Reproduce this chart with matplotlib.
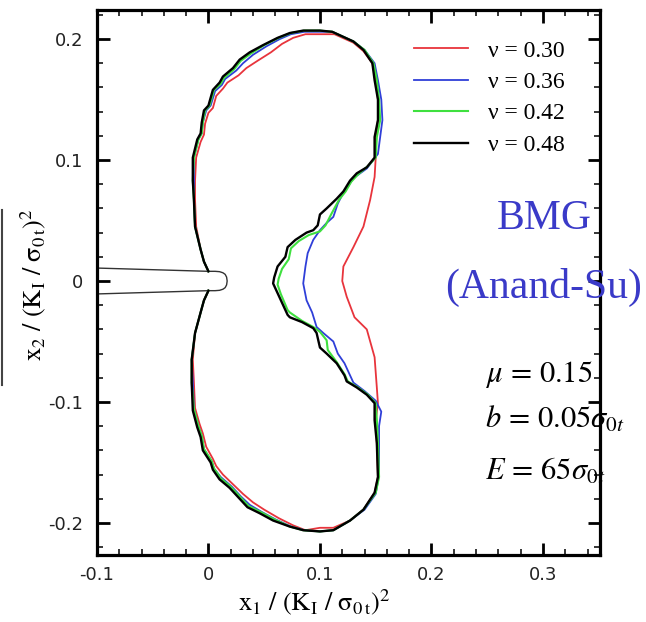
import matplotlib
matplotlib.use('Agg')
import matplotlib.pyplot as plt
from matplotlib.ticker import MultipleLocator, FormatStrFormatter
from matplotlib.lines import Line2D

plt.rcParams['mathtext.fontset'] = 'stix'
plt.rcParams['axes.unicode_minus'] = False

# plastic zone boundaries, x1 / (K_I/sigma_0t)^2 , x2 / (K_I/sigma_0t)^2
nu30 = [(0.000, 0.008), (-0.004, 0.016), (-0.007, 0.026), (-0.011, 0.045), (-0.012, 0.067), (-0.012, 0.083),
        (-0.011, 0.102), (-0.007, 0.115), (-0.004, 0.121), (-0.003, 0.130), (0.000, 0.139), (0.004, 0.143),
        (0.007, 0.153), (0.013, 0.159), (0.017, 0.164), (0.027, 0.170), (0.034, 0.176), (0.044, 0.182),
        (0.056, 0.189), (0.066, 0.196), (0.076, 0.201), (0.087, 0.204), (0.100, 0.204), (0.113, 0.204),
        (0.130, 0.197), (0.139, 0.190), (0.147, 0.180), (0.150, 0.166), (0.152, 0.150), (0.152, 0.133),
        (0.150, 0.119), (0.150, 0.102), (0.149, 0.086), (0.145, 0.067), (0.139, 0.045), (0.130, 0.028),
        (0.121, 0.012), (0.120, 0.000), (0.124, -0.013), (0.131, -0.030), (0.142, -0.040), (0.149, -0.063),
        (0.151, -0.088), (0.152, -0.101), (0.150, -0.115), (0.151, -0.134), (0.152, -0.162), (0.149, -0.175),
        (0.139, -0.189), (0.127, -0.198), (0.112, -0.204), (0.100, -0.204), (0.087, -0.206), (0.076, -0.202),
        (0.063, -0.196), (0.050, -0.189), (0.040, -0.183), (0.031, -0.176), (0.022, -0.168), (0.013, -0.160),
        (0.007, -0.153), (0.004, -0.147), (-0.002, -0.137), (-0.005, -0.126), (-0.008, -0.118), (-0.012, -0.105),
        (-0.013, -0.084), (-0.014, -0.065), (-0.012, -0.043), (-0.007, -0.026), (-0.004, -0.016), (0.000, -0.008)]

nu36 = [(0.000, 0.008), (-0.004, 0.016), (-0.007, 0.026), (-0.012, 0.045), (-0.013, 0.067), (-0.013, 0.083),
        (-0.013, 0.102), (-0.009, 0.117), (-0.006, 0.122), (-0.005, 0.131), (-0.002, 0.141), (0.002, 0.145),
        (0.006, 0.157), (0.012, 0.162), (0.015, 0.167), (0.025, 0.174), (0.031, 0.180), (0.040, 0.187),
        (0.052, 0.194), (0.064, 0.200), (0.074, 0.204), (0.086, 0.206), (0.100, 0.206), (0.111, 0.206),
        (0.130, 0.198), (0.140, 0.191), (0.149, 0.180), (0.152, 0.166), (0.155, 0.150), (0.156, 0.133),
        (0.154, 0.119), (0.152, 0.105), (0.142, 0.093), (0.130, 0.085), (0.125, 0.078), (0.121, 0.073),
        (0.116, 0.064), (0.112, 0.053), (0.106, 0.048), (0.100, 0.042), (0.094, 0.034), (0.089, 0.023),
        (0.087, 0.012), (0.085, -0.002), (0.088, -0.016), (0.093, -0.026), (0.097, -0.038), (0.103, -0.043),
        (0.112, -0.050), (0.116, -0.060), (0.122, -0.068), (0.127, -0.078), (0.130, -0.084), (0.140, -0.091),
        (0.150, -0.099), (0.155, -0.108), (0.153, -0.120), (0.153, -0.134), (0.153, -0.160), (0.150, -0.176),
        (0.140, -0.189), (0.127, -0.198), (0.112, -0.206), (0.100, -0.207), (0.086, -0.206), (0.074, -0.203),
        (0.060, -0.197), (0.048, -0.191), (0.037, -0.185), (0.029, -0.178), (0.021, -0.170), (0.011, -0.162),
        (0.005, -0.155), (0.003, -0.149), (-0.004, -0.139), (-0.006, -0.128), (-0.009, -0.120), (-0.013, -0.106),
        (-0.014, -0.084), (-0.015, -0.065), (-0.012, -0.043), (-0.007, -0.026), (-0.004, -0.016), (0.000, -0.008)]

nu42 = [(0.000, 0.008), (-0.004, 0.016), (-0.007, 0.026), (-0.012, 0.045), (-0.013, 0.067), (-0.014, 0.083),
        (-0.013, 0.102), (-0.009, 0.117), (-0.006, 0.122), (-0.005, 0.131), (-0.003, 0.141), (0.001, 0.145),
        (0.005, 0.158), (0.011, 0.163), (0.014, 0.168), (0.023, 0.175), (0.029, 0.182), (0.038, 0.188),
        (0.050, 0.195), (0.063, 0.201), (0.074, 0.205), (0.086, 0.207), (0.100, 0.207), (0.111, 0.206),
        (0.130, 0.198), (0.140, 0.191), (0.148, 0.180), (0.151, 0.166), (0.153, 0.150), (0.154, 0.133),
        (0.151, 0.119), (0.150, 0.102), (0.143, 0.095), (0.134, 0.088), (0.128, 0.082), (0.123, 0.074),
        (0.117, 0.067), (0.110, 0.055), (0.105, 0.046), (0.100, 0.041), (0.090, 0.038), (0.081, 0.033),
        (0.074, 0.027), (0.072, 0.018), (0.066, 0.010), (0.063, 0.002), (0.062, -0.003), (0.065, -0.011),
        (0.071, -0.024), (0.073, -0.026), (0.084, -0.033), (0.094, -0.038), (0.100, -0.042), (0.106, -0.049),
        (0.107, -0.057), (0.115, -0.067), (0.122, -0.077), (0.125, -0.083), (0.134, -0.088), (0.143, -0.094),
        (0.150, -0.101), (0.151, -0.115), (0.152, -0.134), (0.153, -0.162), (0.150, -0.175), (0.139, -0.189),
        (0.127, -0.198), (0.112, -0.206), (0.100, -0.207), (0.085, -0.206), (0.073, -0.203), (0.059, -0.197),
        (0.047, -0.191), (0.036, -0.186), (0.028, -0.178), (0.020, -0.170), (0.011, -0.163), (0.005, -0.155),
        (0.003, -0.149), (-0.004, -0.139), (-0.006, -0.128), (-0.009, -0.120), (-0.013, -0.106), (-0.015, -0.084),
        (-0.015, -0.065), (-0.012, -0.043), (-0.007, -0.026), (-0.004, -0.016), (0.000, -0.008)]

nu48 = [(0.000, 0.008), (-0.004, 0.016), (-0.007, 0.026), (-0.012, 0.045), (-0.013, 0.067), (-0.014, 0.083),
        (-0.014, 0.102), (-0.010, 0.117), (-0.007, 0.122), (-0.006, 0.131), (-0.004, 0.141), (0.000, 0.145),
        (0.004, 0.158), (0.010, 0.164), (0.013, 0.169), (0.022, 0.176), (0.028, 0.183), (0.037, 0.189),
        (0.049, 0.195), (0.062, 0.201), (0.073, 0.205), (0.085, 0.207), (0.100, 0.207), (0.111, 0.206),
        (0.130, 0.198), (0.139, 0.191), (0.147, 0.180), (0.149, 0.166), (0.152, 0.150), (0.152, 0.133),
        (0.149, 0.119), (0.149, 0.102), (0.142, 0.094), (0.133, 0.089), (0.127, 0.083), (0.121, 0.074),
        (0.115, 0.068), (0.106, 0.060), (0.100, 0.055), (0.098, 0.046), (0.094, 0.042), (0.088, 0.040),
        (0.078, 0.034), (0.071, 0.028), (0.069, 0.020), (0.062, 0.012), (0.059, 0.003), (0.058, -0.002),
        (0.062, -0.010), (0.066, -0.018), (0.071, -0.028), (0.073, -0.030), (0.084, -0.034), (0.094, -0.039),
        (0.097, -0.043), (0.100, -0.055), (0.106, -0.060), (0.115, -0.068), (0.122, -0.078), (0.124, -0.083),
        (0.133, -0.088), (0.142, -0.094), (0.149, -0.101), (0.149, -0.115), (0.151, -0.134), (0.152, -0.162),
        (0.149, -0.175), (0.139, -0.189), (0.127, -0.198), (0.112, -0.206), (0.100, -0.207), (0.085, -0.206),
        (0.073, -0.203), (0.058, -0.198), (0.046, -0.192), (0.035, -0.187), (0.027, -0.179), (0.019, -0.171),
        (0.010, -0.164), (0.004, -0.156), (0.002, -0.150), (-0.005, -0.140), (-0.007, -0.129), (-0.010, -0.121),
        (-0.014, -0.107), (-0.015, -0.084), (-0.015, -0.065), (-0.012, -0.043), (-0.007, -0.026), (-0.004, -0.016),
        (0.000, -0.008)]

# crack faces and blunted tip
crack_x = [-0.1, 0.0, 0.006, 0.010, 0.013, 0.015, 0.0163, 0.0168, 0.0163, 0.015, 0.013, 0.010, 0.006, 0.0, -0.1]
crack_y = [0.0107, 0.0080, 0.0080, 0.0077, 0.0068, 0.0055, 0.0032, 0.0, -0.0032, -0.0055, -0.0068, -0.0077,
           -0.0080, -0.0080, -0.0107]

curves = [nu30, nu36, nu42, nu48]
labels = ['ν = 0.30', 'ν = 0.36', 'ν = 0.42', 'ν = 0.48']
colors = ['#e8343c', '#2f3fd8', '#3fe03f', 'black']
widths = [1.3, 1.3, 1.5, 1.7]

fig = plt.figure(figsize=(6.46, 6.22), dpi=100)
ax = fig.add_axes([0.150, 0.1077, 0.7786, 0.8762])

ax.plot(crack_x, crack_y, color='#333333', lw=1.0)
for c, lab, col, w in zip(curves, labels, colors, widths):
    xs = [p[0] for p in c]
    ys = [p[1] for p in c]
    ax.plot(xs, ys, color=col, lw=w, label=lab)

ax.set_xlim(-0.1, 0.351)
ax.set_ylim(-0.2265, 0.224)
ax.xaxis.set_major_locator(MultipleLocator(0.1))
ax.xaxis.set_minor_locator(MultipleLocator(0.02))
ax.yaxis.set_major_locator(MultipleLocator(0.1))
ax.yaxis.set_minor_locator(MultipleLocator(0.02))
ax.xaxis.set_major_formatter(FormatStrFormatter('%g'))
ax.yaxis.set_major_formatter(FormatStrFormatter('%g'))

for s in ax.spines.values():
    s.set_linewidth(2.3)
ax.tick_params(which='both', direction='in', top=True, right=True, colors='black',
               labelcolor='#222222', labelsize=13)
ax.tick_params(which='major', length=9, width=2.0)
ax.tick_params(which='minor', length=4.5, width=1.1)
ax.tick_params(axis='x', pad=8)
ax.tick_params(axis='y', pad=10)

ax.set_xlabel(r'$\mathrm{x_1\ /\ (K_I\ /\ \sigma_{0\,t})^2}$', fontsize=19)
ax.xaxis.set_label_coords(0.433, -0.058)
ax.set_ylabel(r'$\mathrm{x_2\ /\ (K_I\ /\ \sigma_{0\,t})^2}$', fontsize=19)
ax.yaxis.set_label_coords(-0.097, 0.495)

ax.legend(loc='upper left', bbox_to_anchor=(0.630, 0.945), frameon=False, borderpad=0,
          borderaxespad=0, handlelength=2.3, handletextpad=0.85, labelspacing=0.42,
          prop={'family': 'Liberation Serif', 'size': 17})

blue = '#3a3ac8'
ax.text(0.889, 0.598, 'BMG', transform=ax.transAxes, ha='center', va='baseline',
        color=blue, fontsize=30, family='Liberation Serif')
ax.text(0.889, 0.4716, '(Anand-Su)', transform=ax.transAxes, ha='center', va='baseline',
        color=blue, fontsize=30, family='Liberation Serif')
ax.text(0.771, 0.317, r'$\mu\,=\,0.15$', transform=ax.transAxes, va='baseline', fontsize=22)
ax.text(0.771, 0.233, r'$b\,=\,0.05\sigma_{0t}$', transform=ax.transAxes, va='baseline', fontsize=22)
ax.text(0.771, 0.138, r'$E\,=\,65\sigma_{0t}$', transform=ax.transAxes, va='baseline', fontsize=22)

# edge of a neighbouring panel left in the crop
fig.add_artist(Line2D([0.003, 0.003], [0.381, 0.662], color='#444444', lw=1.5))

fig.savefig('out.png', dpi=100)
